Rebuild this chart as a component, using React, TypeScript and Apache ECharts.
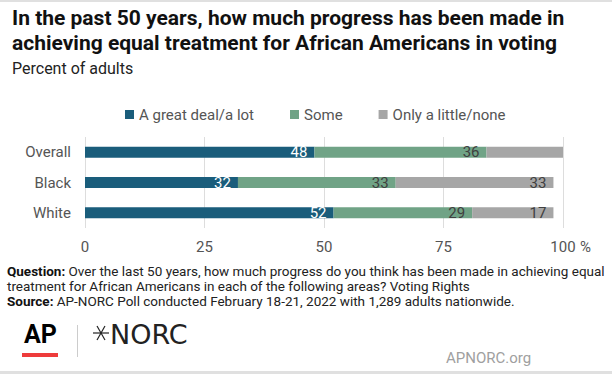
import React, { useEffect, useRef } from "react";
import * as echarts from "echarts";

const categories = ["Overall", "Black", "White"];
const seriesNames = ["A great deal/a lot", "Some", "Only a little/none"];
const greatDeal = [48, 32, 52];
const some = [36, 33, 29];
const little = [16, 33, 17];
const hiddenLabels = [[false, false, false], [false, false, false], [true, false, false]];
const xTicks = [0, 25, 50, 75, 100];
const colors = ["#1a5d7b", "#70a386", "#a6a6a6"];
const labelColors = ["#ffffff", "#404040", "#404040"];

const FONT = "Roboto, sans-serif";

export default function App() {
  const ref = useRef<HTMLDivElement>(null);
  useEffect(() => {
    if (!ref.current) return;
    const chart = echarts.init(ref.current, null, { renderer: "svg" });
    const values = [greatDeal, some, little];
    const cx = 101, cy = 333, r = 8;
    const rays = [0, 60, 120].map((deg) => {
      const a = (deg * Math.PI) / 180;
      return {
        type: "line",
        shape: { x1: cx - r * Math.cos(a), y1: cy - r * Math.sin(a), x2: cx + r * Math.cos(a), y2: cy + r * Math.sin(a) },
        style: { stroke: "#222", lineWidth: 1.2 },
      };
    });
    chart.setOption({
      animation: false,
      textStyle: { fontFamily: FONT },
      title: [
        {
          text: "In the past 50 years, how much progress has been made in\nachieving equal treatment for African Americans in voting",
          left: 12,
          top: 5,
          padding: 0,
          textStyle: { fontFamily: FONT, fontSize: 21, fontWeight: "bold", color: "#111", lineHeight: 25 },
        },
        {
          text: "Percent of adults",
          left: 12,
          top: 59,
          padding: 0,
          textStyle: { fontFamily: FONT, fontSize: 16, fontWeight: "normal", color: "#222", lineHeight: 18 },
        },
        {
          text:
            "{b|Question:} Over the last 50 years, how much progress do you think has been made in achieving equal\ntreatment for African Americans in each of the following areas? Voting Rights\n{b|Source:} AP-NORC Poll conducted February 18-21, 2022 with 1,289 adults nationwide.",
          left: 7,
          top: 263,
          padding: 0,
          textStyle: {
            fontFamily: FONT,
            fontSize: 13.5,
            fontWeight: "normal",
            color: "#222",
            lineHeight: 15,
            rich: {
              b: { fontFamily: FONT, fontSize: 13.5, fontWeight: "bold", color: "#111", lineHeight: 15 },
            },
          },
        },
      ],
      legend: {
        top: 102,
        left: 120,
        itemWidth: 9,
        itemHeight: 9,
        itemGap: 36,
        icon: "rect",
        textStyle: { fontFamily: FONT, fontSize: 15, color: "#555" },
        data: seriesNames,
      },
      grid: { left: 85, right: 49, top: 137, height: 91, containLabel: false },
      xAxis: {
        type: "value",
        min: xTicks[0],
        max: xTicks[xTicks.length - 1],
        interval: 25,
        axisLine: { show: false },
        axisTick: { show: false },
        splitLine: { show: true, lineStyle: { color: "#dddddd", width: 1 } },
        axisLabel: { color: "#555", fontSize: 15, fontFamily: FONT, margin: 11 },
      },
      yAxis: {
        type: "category",
        inverse: true,
        data: categories,
        axisLine: { show: false },
        axisTick: { show: false },
        axisLabel: { color: "#555", fontSize: 15, fontFamily: FONT, margin: 14 },
      },
      series: seriesNames.map((name, si) => ({
        name,
        type: "bar",
        stack: "total",
        barWidth: 11,
        itemStyle: { color: colors[si] },
        label: {
          show: true,
          position: "insideRight",
          distance: 7,
          color: labelColors[si],
          fontSize: 15,
          fontFamily: FONT,
        },
        data: values[si].map((v, ci) =>
          hiddenLabels[si][ci] ? { value: v, label: { show: false } } : v
        ),
      })),
      graphic: [
        { type: "rect", shape: { x: 0, y: 0, width: 612, height: 2 }, style: { fill: "#e0e0e0" } },
        { type: "rect", shape: { x: 0, y: 371, width: 612, height: 3 }, style: { fill: "#e0e0e0" } },
        {
          type: "text",
          x: 580,
          y: 247,
          style: { text: "%", font: "15px " + FONT, fill: "#555", verticalAlign: "middle", align: "left" },
        },
        {
          type: "text",
          x: 24,
          y: 334,
          style: { text: "AP", font: "bold 25px " + FONT, fill: "#000", verticalAlign: "middle", align: "left" },
        },
        { type: "rect", shape: { x: 22, y: 353, width: 36, height: 4 }, style: { fill: "#ee3b3b" } },
        { type: "line", shape: { x1: 77.5, y1: 325, x2: 77.5, y2: 357 }, style: { stroke: "#cccccc", lineWidth: 1 } },
        ...rays,
        {
          type: "text",
          x: 110,
          y: 334,
          style: { text: "NORC", font: "27px 'DejaVu Sans', sans-serif", fill: "#222", verticalAlign: "middle", align: "left" },
        },
        {
          type: "text",
          x: 446,
          y: 358,
          style: { text: "APNORC.org", font: "15px " + FONT, fill: "#a0a0a0", verticalAlign: "middle", align: "left" },
        },
      ],
    });
    return () => chart.dispose();
  }, []);
  return (
    <div
      ref={ref}
      style={{ position: "fixed", left: 0, top: 0, width: 612, height: 374, background: "#fff" }}
    />
  );
}
